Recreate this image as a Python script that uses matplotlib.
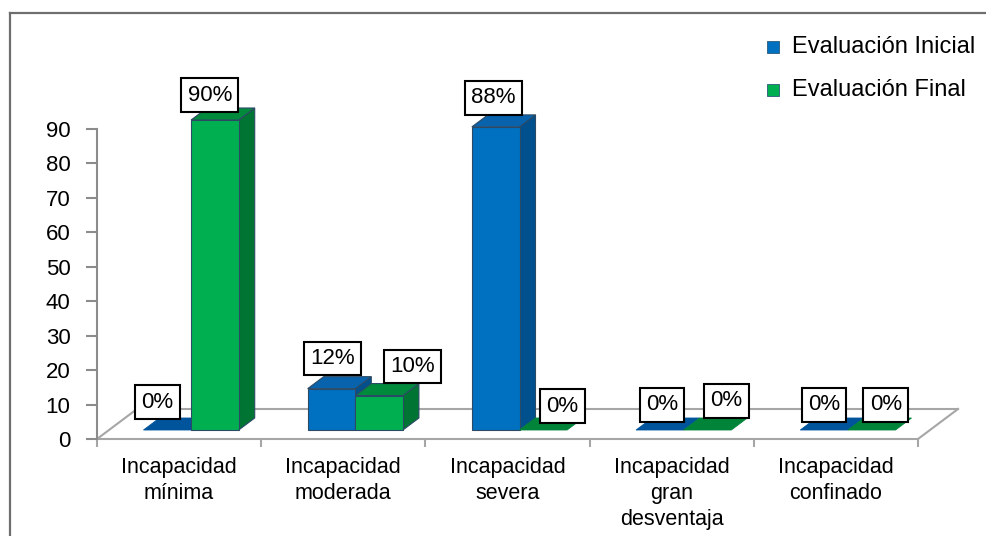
import matplotlib
matplotlib.use("Agg")
import matplotlib.pyplot as plt
from matplotlib.patches import Polygon, Rectangle
from matplotlib.lines import Line2D

plt.rcParams['font.family'] = ['Liberation Sans', 'DejaVu Sans']

categories = ["Incapacidad\nmínima", "Incapacidad\nmoderada", "Incapacidad\nsevera",
              "Incapacidad\ngran\ndesventaja", "Incapacidad\nconfinado"]
series_names = ["Evaluación Inicial", "Evaluación Final"]
inicial = [0, 12, 88, 0, 0]
final = [90, 10, 0, 0, 0]
y_ticks = [0, 10, 20, 30, 40, 50, 60, 70, 80, 90]

# face colours: front, top, side
styles = [
    dict(front="#0070C0", top="#0862AC", side="#00508E", flat="#00549C"),
    dict(front="#00B050", top="#008A3C", side="#007432", flat="#00843A"),
]
edge = "#2C4A66"

# label offsets in pixels from the bar's front-top centre
label_offsets = [
    [(-10, 28), (1, 30), (-2, 29), (2, 25), (0, 25)],
    [(-5, 25), (33, 29), (19, 24), (19, 29), (14, 25)],
]

W, H = 986, 536
fig = plt.figure(figsize=(W / 100, H / 100), dpi=100)
ax = fig.add_axes([97 / W, (H - 439) / H, (918 - 97) / W, (439 - 129) / H])
ax.set_xlim(0, 5)
ax.set_ylim(0, 90)

# depth vector of the floor in data units
px_x = 5 / (918 - 97)
px_y = 90 / (439 - 129)
DX, DY = 40 * px_x, 30 * px_y
bar_w = 0.29
d0, d1 = 0.3, 0.7  # bar depth span as fraction of floor depth

grid_c = "#A6A6A6"
floor = [((0, 0), (5, 0)), ((5, 0), (5 + DX, DY)), ((DX, DY), (5 + DX, DY)), ((0, 0), (DX, DY))]
for (a, b) in floor:
    ax.add_line(Line2D([a[0], b[0]], [a[1], b[1]], color=grid_c, lw=1.5, clip_on=False, zorder=1))


def draw_bar(x0, v, st):
    fx, fy = d0 * DX, d0 * DY
    bx, by = d1 * DX, d1 * DY
    x1 = x0 + bar_w
    if v == 0:
        top = [(x0 + fx, fy), (x1 + fx, fy), (x1 + bx, by), (x0 + bx, by)]
        ax.add_patch(Polygon(top, closed=True, fc=st["flat"], ec=st["flat"], lw=0.6,
                             clip_on=False, zorder=3))
        return
    side = [(x1 + fx, fy), (x1 + bx, by), (x1 + bx, v + by), (x1 + fx, v + fy)]
    top = [(x0 + fx, v + fy), (x1 + fx, v + fy), (x1 + bx, v + by), (x0 + bx, v + by)]
    front = [(x0 + fx, fy), (x1 + fx, fy), (x1 + fx, v + fy), (x0 + fx, v + fy)]
    for poly, c in ((side, st["side"]), (top, st["top"]), (front, st["front"])):
        ax.add_patch(Polygon(poly, closed=True, fc=c, ec=edge, lw=0.8,
                             clip_on=False, zorder=3))


for i in range(len(categories)):
    for s, vals in enumerate((inicial, final)):
        x0 = i + 0.5 - bar_w + s * bar_w
        draw_bar(x0, vals[i], styles[s])

for i in range(len(categories)):
    for s, vals in enumerate((inicial, final)):
        x0 = i + 0.5 - bar_w + s * bar_w
        cx = x0 + bar_w / 2 + d0 * DX
        cy = vals[i] + d0 * DY
        ax.annotate(f"{vals[i]}%", xy=(cx, cy), xytext=label_offsets[s][i],
                    textcoords="offset pixels", ha="center", va="center",
                    fontsize=16, color="black", zorder=6,
                    bbox=dict(boxstyle="square,pad=0.28", fc="white", ec="black", lw=1.5),
                    annotation_clip=False)

for sp in ("top", "right", "bottom"):
    ax.spines[sp].set_visible(False)
ax.spines["left"].set_color("#8C8C8C")
ax.spines["left"].set_linewidth(1.5)
ax.set_yticks(y_ticks)
ax.tick_params(axis="y", length=8, width=1.5, color="#8C8C8C", labelsize=16, pad=11)
ax.set_xticks(range(6))
ax.set_xticklabels([""] * 6)
ax.set_xticks([i + 0.5 for i in range(5)], minor=True)
ax.set_xticklabels(categories, minor=True, fontsize=15.5, linespacing=1.3)
ax.tick_params(axis="x", which="major", length=6, width=1.5, color="#A6A6A6", direction="out")
ax.tick_params(axis="x", which="minor", length=0, pad=13)
ax.patch.set_visible(False)

# legend
for k, name in enumerate(series_names):
    yc = H - (47 + 43 * k)
    fig.add_artist(Rectangle(((767) / W, (yc - 6) / H), 12 / W, 12 / H,
                             transform=fig.transFigure, fc=styles[k]["front"],
                             ec="#2C5A7A", lw=0.6))
    fig.text(792 / W, yc / H, name, fontsize=17, va="center", ha="left")

# outer border
fig.add_artist(Line2D([10 / W, 1], [(H - 13) / H] * 2, transform=fig.transFigure,
                      color="#6E6E6E", lw=1.6))
fig.add_artist(Line2D([10 / W] * 2, [0, (H - 13) / H], transform=fig.transFigure,
                      color="#6E6E6E", lw=1.6))

fig.savefig("out.png", dpi=100)
